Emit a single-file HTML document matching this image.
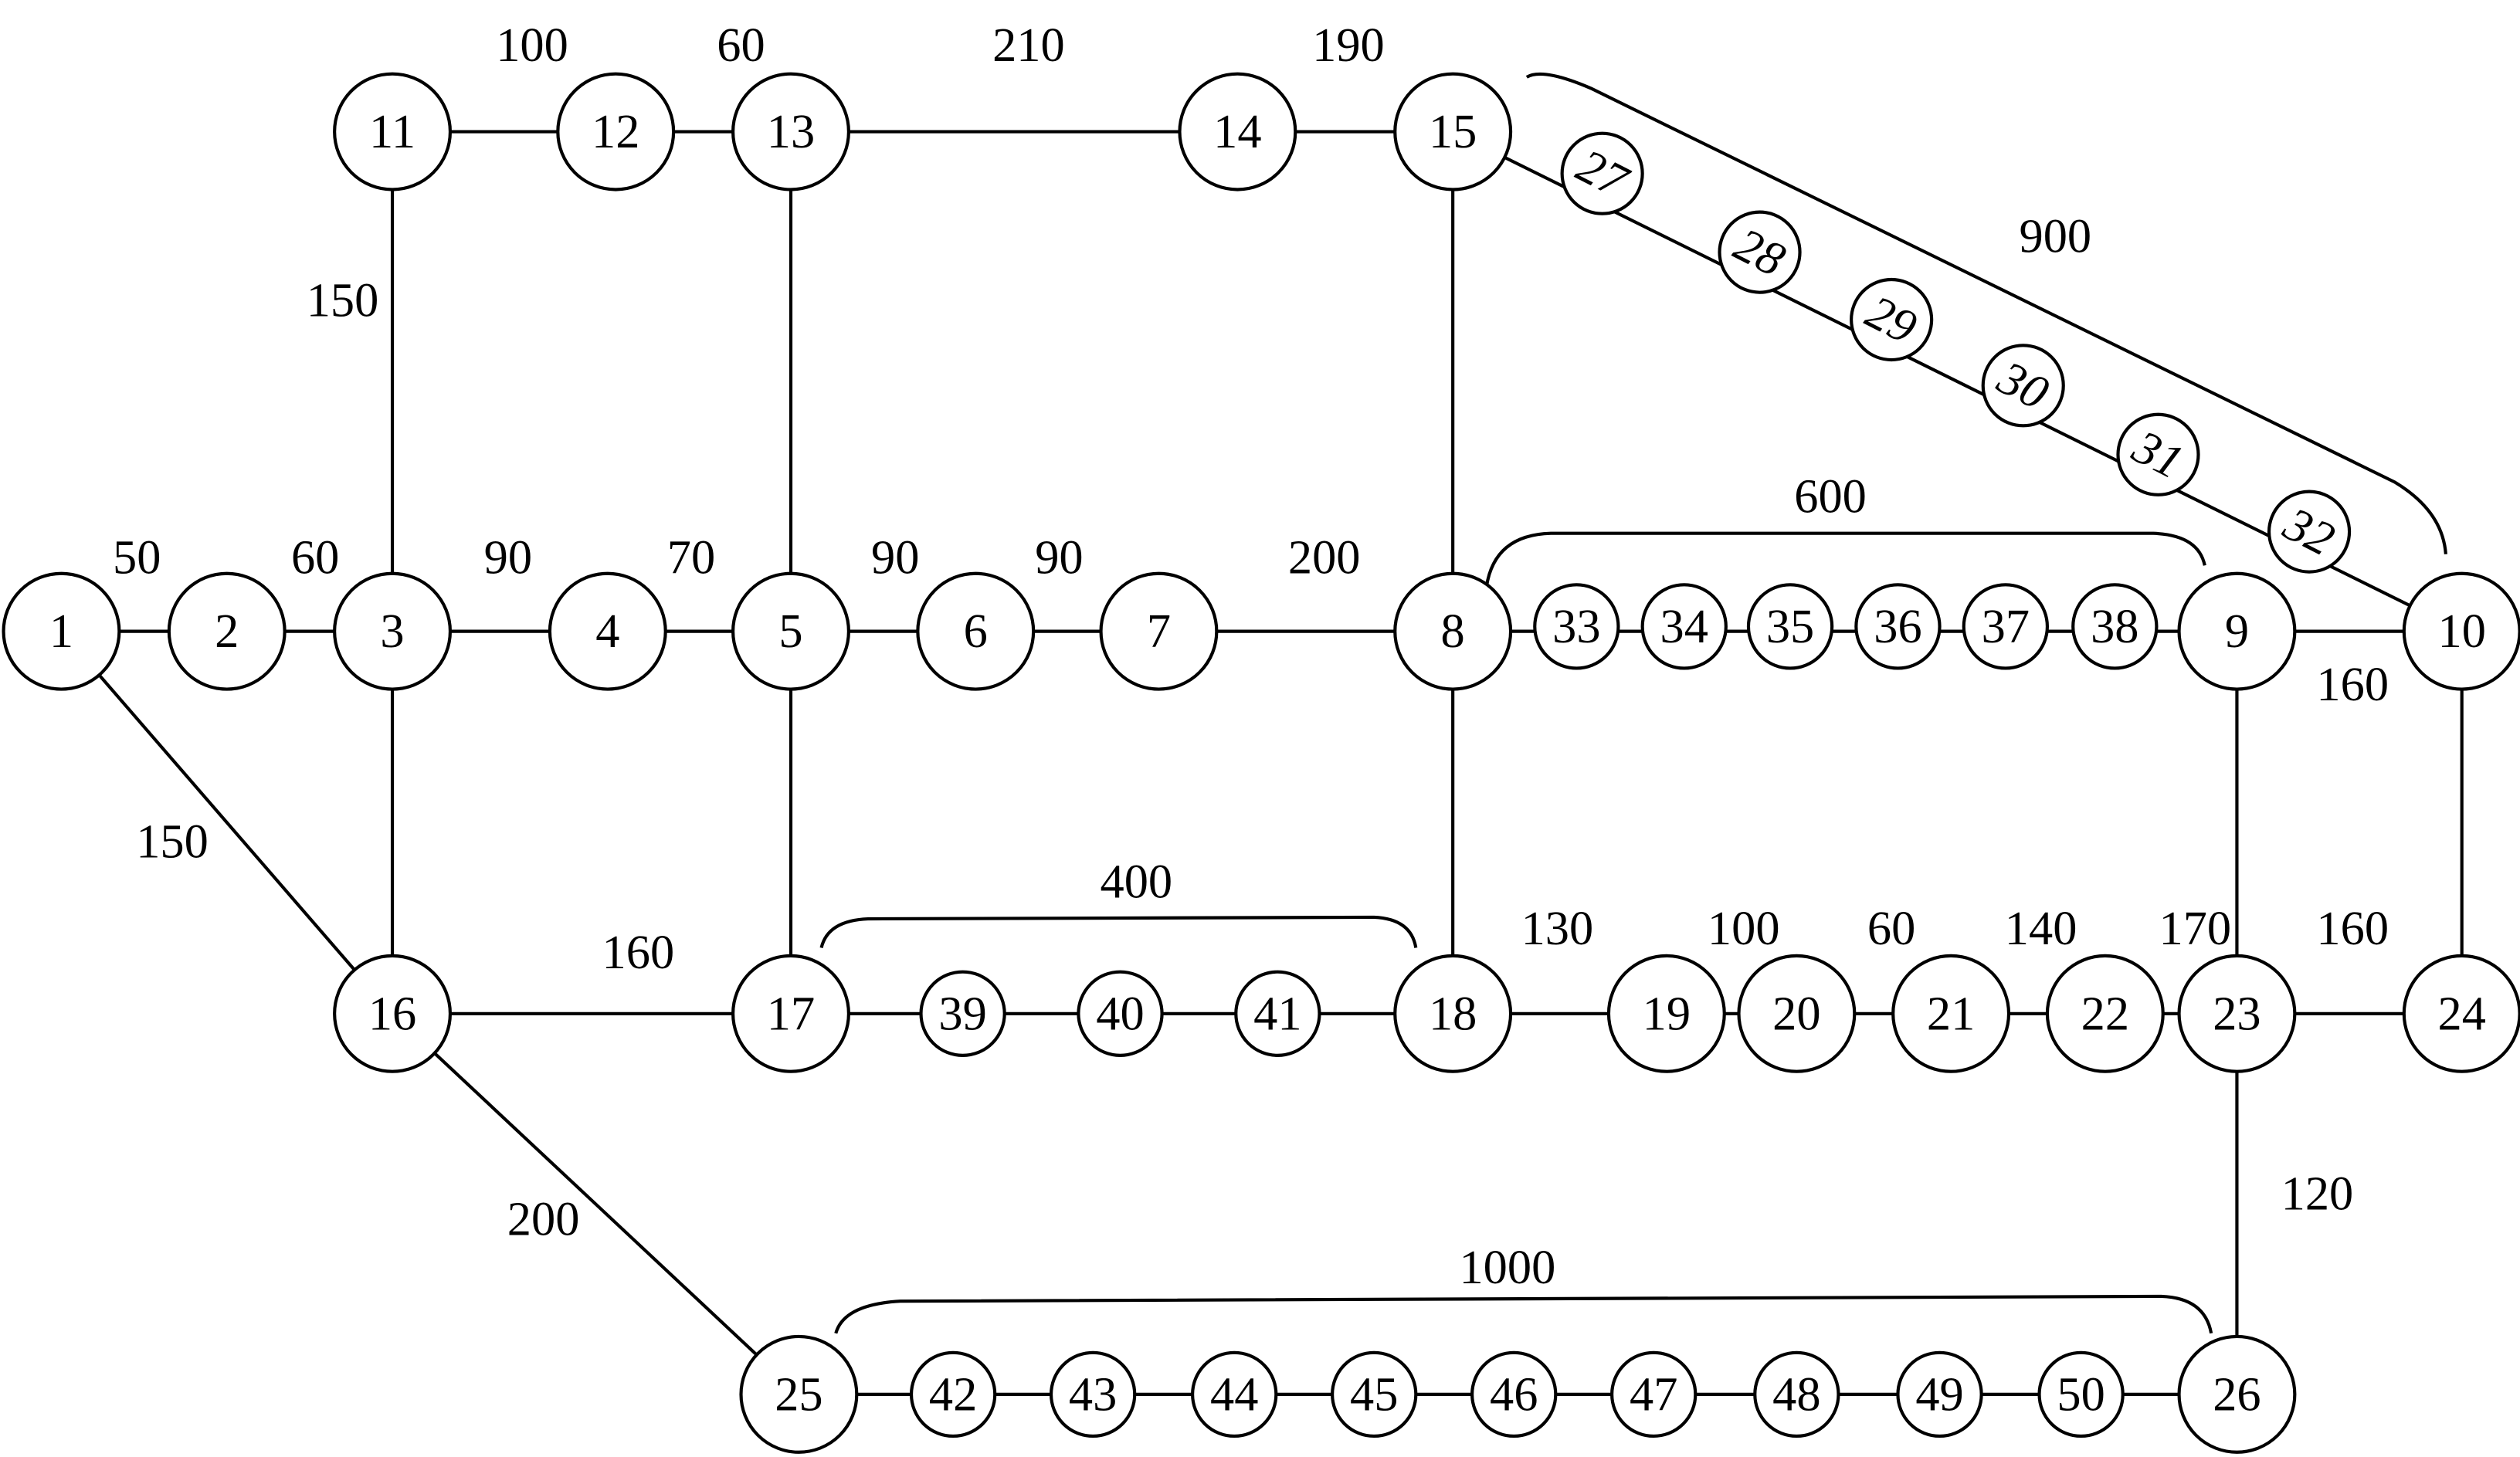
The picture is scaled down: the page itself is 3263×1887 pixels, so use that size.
<!DOCTYPE html>
<html><head><meta charset="utf-8"><style>html,body{margin:0;padding:0;background:#fff}svg{display:block}</style></head><body>
<svg width="3263" height="1887" viewBox="0 0 1568 907" xmlns="http://www.w3.org/2000/svg" font-family="Liberation Serif, serif" font-size="30">
<g stroke="#000" stroke-width="2" fill="none">
<line x1="38" y1="393" x2="1532" y2="393"/>
<line x1="244" y1="82" x2="904" y2="82"/>
<line x1="244" y1="631" x2="1532" y2="631"/>
<line x1="497" y1="868" x2="1392" y2="868"/>
<line x1="244" y1="82" x2="244" y2="631"/>
<line x1="492" y1="82" x2="492" y2="631"/>
<line x1="904" y1="82" x2="904" y2="631"/>
<line x1="1392" y1="393" x2="1392" y2="868"/>
<line x1="1532" y1="393" x2="1532" y2="631"/>
<line x1="38" y1="393" x2="244" y2="631"/>
<line x1="244" y1="631" x2="497" y2="868"/>
<line x1="904" y1="82" x2="1532" y2="393"/>
<path d="M950,48 Q960,42 990,55 L1490,300 Q1520,318 1522,345"/>
<path d="M925,365 Q930,333 965,332 L1340,332 Q1368,333 1372,352"/>
<path d="M511,590 Q515,573 540,572 L855,571 Q878,572 881,590"/>
<path d="M520,830 Q525,812 560,810 L1345,807 Q1372,808 1376,830"/>
</g>
<g stroke="#000" stroke-width="2" fill="#fff">
<circle cx="38" cy="393" r="36"/><circle cx="141" cy="393" r="36"/><circle cx="244" cy="393" r="36"/><circle cx="378" cy="393" r="36"/><circle cx="492" cy="393" r="36"/><circle cx="607" cy="393" r="36"/><circle cx="721" cy="393" r="36"/><circle cx="904" cy="393" r="36"/><circle cx="1392" cy="393" r="36"/><circle cx="1532" cy="393" r="36"/>
<circle cx="981" cy="390" r="26"/><circle cx="1048" cy="390" r="26"/><circle cx="1114" cy="390" r="26"/><circle cx="1181" cy="390" r="26"/><circle cx="1248" cy="390" r="26"/><circle cx="1316" cy="390" r="26"/>
<circle cx="244" cy="82" r="36"/><circle cx="383" cy="82" r="36"/><circle cx="492" cy="82" r="36"/><circle cx="770" cy="82" r="36"/><circle cx="904" cy="82" r="36"/>
<circle cx="997" cy="108" r="25"/><circle cx="1095" cy="157" r="25"/><circle cx="1177" cy="199" r="25"/><circle cx="1259" cy="240" r="25"/><circle cx="1343" cy="283" r="25"/><circle cx="1437" cy="331" r="25"/>
<circle cx="244" cy="631" r="36"/><circle cx="492" cy="631" r="36"/><circle cx="599" cy="631" r="26"/><circle cx="697" cy="631" r="26"/><circle cx="795" cy="631" r="26"/><circle cx="904" cy="631" r="36"/>
<circle cx="1037" cy="631" r="36"/><circle cx="1118" cy="631" r="36"/><circle cx="1214" cy="631" r="36"/><circle cx="1310" cy="631" r="36"/><circle cx="1392" cy="631" r="36"/><circle cx="1532" cy="631" r="36"/>
<circle cx="497" cy="868" r="36"/><circle cx="593" cy="868" r="26"/><circle cx="680" cy="868" r="26"/><circle cx="768" cy="868" r="26"/><circle cx="855" cy="868" r="26"/><circle cx="942" cy="868" r="26"/><circle cx="1029" cy="868" r="26"/><circle cx="1118" cy="868" r="26"/><circle cx="1207" cy="868" r="26"/><circle cx="1295" cy="868" r="26"/><circle cx="1392" cy="868" r="36"/>
</g>
<g text-anchor="middle" dominant-baseline="central" fill="#000">
<text x="38" y="393">1</text><text x="141" y="393">2</text><text x="244" y="393">3</text><text x="378" y="393">4</text><text x="492" y="393">5</text><text x="607" y="393">6</text><text x="721" y="393">7</text><text x="904" y="393">8</text><text x="1392" y="393">9</text><text x="1532" y="393">10</text>
<text x="981" y="390">33</text><text x="1048" y="390">34</text><text x="1114" y="390">35</text><text x="1181" y="390">36</text><text x="1248" y="390">37</text><text x="1316" y="390">38</text>
<text x="244" y="82">11</text><text x="383" y="82">12</text><text x="492" y="82">13</text><text x="770" y="82">14</text><text x="904" y="82">15</text>
<g font-style="italic"><text transform="translate(997,108) rotate(27)">27</text><text transform="translate(1095,157) rotate(27)">28</text><text transform="translate(1177,199) rotate(27)">29</text><text transform="translate(1259,240) rotate(27)">30</text><text transform="translate(1343,283) rotate(27)">31</text><text transform="translate(1437,331) rotate(27)">32</text></g>
<text x="244" y="631">16</text><text x="492" y="631">17</text><text x="599" y="631">39</text><text x="697" y="631">40</text><text x="795" y="631">41</text><text x="904" y="631">18</text>
<text x="1037" y="631">19</text><text x="1118" y="631">20</text><text x="1214" y="631">21</text><text x="1310" y="631">22</text><text x="1392" y="631">23</text><text x="1532" y="631">24</text>
<text x="497" y="868">25</text><text x="593" y="868">42</text><text x="680" y="868">43</text><text x="768" y="868">44</text><text x="855" y="868">45</text><text x="942" y="868">46</text><text x="1029" y="868">47</text><text x="1118" y="868">48</text><text x="1207" y="868">49</text><text x="1295" y="868">50</text><text x="1392" y="868">26</text>
<text x="85" y="347">50</text><text x="196" y="347">60</text><text x="316" y="347">90</text><text x="430" y="347">70</text><text x="557" y="347">90</text><text x="659" y="347">90</text><text x="824" y="347">200</text>
<text x="331" y="28">100</text><text x="461" y="28">60</text><text x="640" y="28">210</text><text x="839" y="28">190</text>
<text x="213" y="187">150</text><text x="1279" y="147">900</text><text x="1139" y="309">600</text><text x="1464" y="426">160</text>
<text x="107" y="524">150</text><text x="397" y="593">160</text><text x="707" y="549">400</text>
<text x="969" y="578">130</text><text x="1085" y="578">100</text><text x="1177" y="578">60</text><text x="1270" y="578">140</text><text x="1366" y="578">170</text><text x="1464" y="578">160</text>
<text x="338" y="759">200</text><text x="1442" y="743">120</text><text x="938" y="789">1000</text>
</g>
</svg>
</body></html>
